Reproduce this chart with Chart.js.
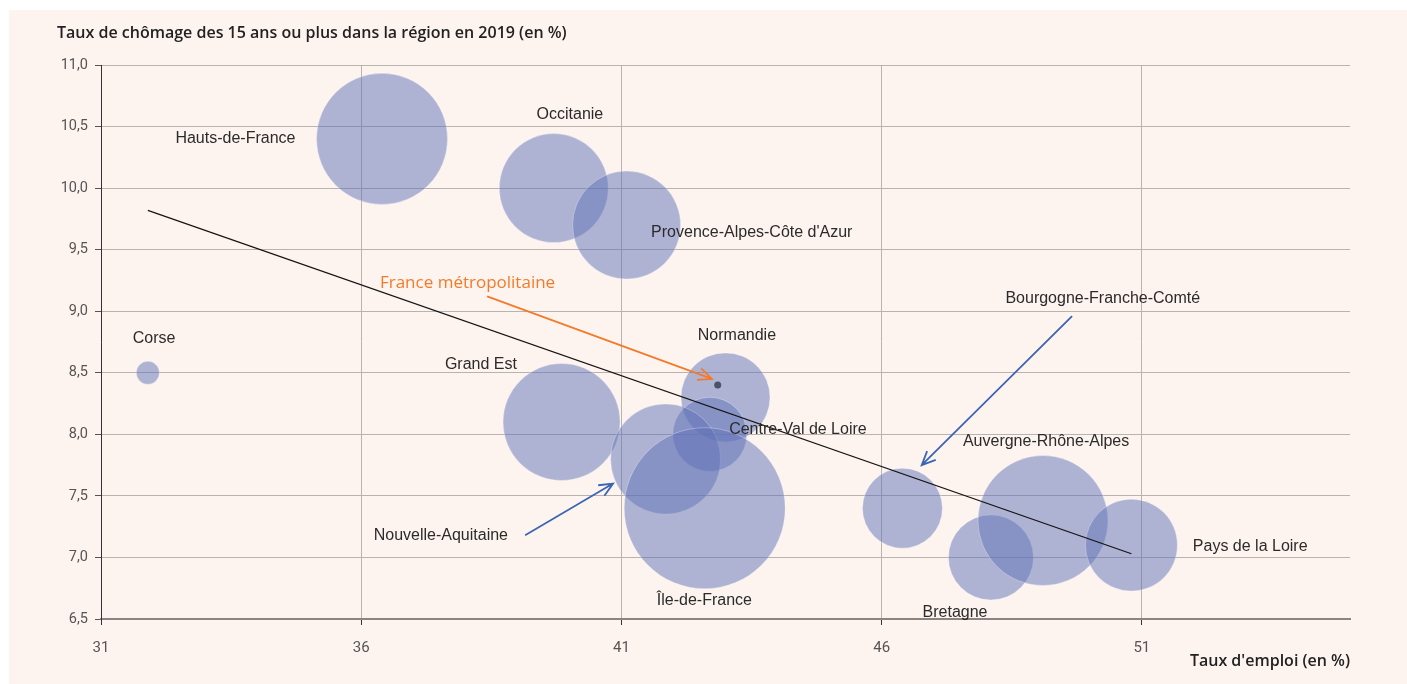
<!DOCTYPE html>
<html lang="fr">
<head>
<meta charset="utf-8">
<title>Taux de chômage et taux d'emploi par région</title>
<script src="https://cdn.jsdelivr.net/npm/chart.js@4.4.1/dist/chart.umd.min.js"></script>
<style>
    html, body { margin: 0; padding: 0; background: #ffffff; width: 1407px; height: 684px; overflow: hidden; }
    #panel { position: absolute; left: 9px; top: 10px; right: 0; bottom: 0; background: #fef4ef; }
    #wrap { position: absolute; left: 0; top: 0; width: 1407px; height: 684px; }
</style>
</head>
<body>
<div id="panel"></div>
<div id="wrap"><canvas id="bubbleChart"></canvas></div>
<script>
// Données
const regions = ['Corse', 'Hauts-de-France', 'Occitanie', "Provence-Alpes-Côte d'Azur", 'Normandie',
    'Centre-Val de Loire', 'Grand Est', 'Nouvelle-Aquitaine', 'Île-de-France', 'Bourgogne-Franche-Comté',
    'Bretagne', 'Auvergne-Rhône-Alpes', 'Pays de la Loire'];
const tauxEmploi = [31.9, 36.4, 39.7, 41.1, 43.0, 42.7, 39.85, 41.85, 42.6, 46.4, 48.1, 49.1, 50.8];
const tauxChomage = [8.5, 10.4, 10.0, 9.7, 8.3, 8.0, 8.1, 7.8, 7.4, 7.4, 7.0, 7.3, 7.1];
// taille des bulles (valeur relative, estimée)
const tailleBulle = [250, 8080, 5590, 5490, 3730, 2580, 6450, 5700, 12200, 3010, 3400, 7950, 3980];

const franceEmploi = [42.85];
const franceChomage = [8.4];

// droite de tendance (extrémités)
const tendanceX = [31.9, 50.8];
const tendanceY = [9.82, 7.03];

const xTicks = [31, 36, 41, 46, 51];
const yTicks = [6.5, 7.0, 7.5, 8.0, 8.5, 9.0, 9.5, 10.0, 10.5, 11.0];

// Étiquettes des régions (position en coordonnées des axes)
const etiquettes = [
    { text: 'Hauts-de-France', x: 32.43, y: 10.40, align: 'left' },
    { text: 'Occitanie', x: 40.01, y: 10.60, align: 'center' },
    { text: "Provence-Alpes-Côte d'Azur", x: 41.57, y: 9.64, align: 'left' },
    { text: 'Normandie', x: 43.22, y: 8.80, align: 'center' },
    { text: 'Grand Est', x: 38.30, y: 8.57, align: 'center' },
    { text: 'Corse', x: 32.02, y: 8.78, align: 'center' },
    { text: 'Centre-Val de Loire', x: 43.07, y: 8.04, align: 'left' },
    { text: 'Nouvelle-Aquitaine', x: 36.24, y: 7.18, align: 'left' },
    { text: 'Île-de-France', x: 41.68, y: 6.65, align: 'left' },
    { text: 'Bourgogne-Franche-Comté', x: 50.25, y: 9.10, align: 'center' },
    { text: 'Auvergne-Rhône-Alpes', x: 49.16, y: 7.94, align: 'center' },
    { text: 'Bretagne', x: 47.41, y: 6.55, align: 'center' },
    { text: 'Pays de la Loire', x: 51.98, y: 7.09, align: 'left' }
];

const fleches = [
    { from: [38.42, 9.12], to: [42.74, 8.45], color: '#f47a2a' },
    { from: [49.66, 8.96], to: [46.77, 7.75], color: '#3b66b3' },
    { from: [39.15, 7.18], to: [40.84, 7.60], color: '#3b66b3' }
];

const rayon = v => Math.sqrt(v) * 0.7288;
const formatFr = v => v.toFixed(1).replace('.', ',');

// Plugin : étiquettes, flèches et titres des axes
const annotationsPlugin = {
    id: 'annotations',
    afterDatasetsDraw(chart) {
        const { ctx, scales: { x, y } } = chart;
        ctx.save();

        ctx.font = '16px "Liberation Sans", Arial, sans-serif';
        ctx.fillStyle = '#2b2b2b';
        ctx.textBaseline = 'middle';
        etiquettes.forEach(e => {
            ctx.textAlign = e.align;
            ctx.fillText(e.text, x.getPixelForValue(e.x), y.getPixelForValue(e.y));
        });

        ctx.font = '17px "Open Sans", sans-serif';
        ctx.fillStyle = '#f47a2a';
        ctx.textAlign = 'left';
        ctx.fillText('France métropolitaine', x.getPixelForValue(36.36), y.getPixelForValue(9.23));

        fleches.forEach(f => {
            const x1 = x.getPixelForValue(f.from[0]), y1 = y.getPixelForValue(f.from[1]);
            const x2 = x.getPixelForValue(f.to[0]), y2 = y.getPixelForValue(f.to[1]);
            const angle = Math.atan2(y2 - y1, x2 - x1);
            ctx.strokeStyle = f.color;
            ctx.lineWidth = 1.8;
            ctx.beginPath();
            ctx.moveTo(x1, y1);
            ctx.lineTo(x2, y2);
            ctx.moveTo(x2 - 15 * Math.cos(angle - 0.42), y2 - 15 * Math.sin(angle - 0.42));
            ctx.lineTo(x2, y2);
            ctx.lineTo(x2 - 15 * Math.cos(angle + 0.42), y2 - 15 * Math.sin(angle + 0.42));
            ctx.stroke();
        });
        ctx.restore();
    },
    afterDraw(chart) {
        const { ctx, chartArea } = chart;
        ctx.save();
        ctx.font = '600 16px "Open Sans", sans-serif';
        ctx.fillStyle = '#222222';
        ctx.textBaseline = 'middle';
        ctx.textAlign = 'left';
        ctx.fillText('Taux de chômage des 15 ans ou plus dans la région en 2019 (en %)', 57, 33);
        ctx.textAlign = 'right';
        ctx.fillText("Taux d'emploi (en %)", chartArea.right, 661);
        ctx.restore();
    }
};

const ctx = document.getElementById('bubbleChart');

new Chart(ctx, {
    type: 'bubble',
    data: {
        datasets: [
            {
                type: 'line',
                label: 'Tendance',
                data: tendanceX.map((v, i) => ({ x: v, y: tendanceY[i] })),
                borderColor: '#151515',
                borderWidth: 1.3,
                pointRadius: 0,
                fill: false,
                order: 0
            },
            {
                label: 'France métropolitaine',
                data: franceEmploi.map((v, i) => ({ x: v, y: franceChomage[i], r: 3.5 })),
                backgroundColor: '#4d5168',
                borderWidth: 0,
                order: 1
            },
            {
                label: 'Régions',
                data: regions.map((name, i) => ({ x: tauxEmploi[i], y: tauxChomage[i], r: rayon(tailleBulle[i]) })),
                backgroundColor: 'rgba(95, 114, 183, 0.5)',
                borderColor: 'rgba(255, 255, 255, 0.3)',
                borderWidth: 1,
                order: 2
            }
        ]
    },
    options: {
        responsive: true,
        maintainAspectRatio: false,
        animation: false,
        events: [],
        layout: { autoPadding: false, padding: { top: 65, right: 57, left: 0, bottom: 0 } },
        plugins: {
            legend: { display: false },
            tooltip: { enabled: false }
        },
        scales: {
            x: {
                type: 'linear',
                min: 31,
                max: 55,
                afterBuildTicks: (scale) => { scale.ticks = xTicks.map(v => ({ value: v })); },
                afterFit: (scale) => { scale.height = 65; },
                grid: {
                    color: '#b9b3b0',
                    lineWidth: 1,
                    tickLength: 6,
                    tickColor: '#333333'
                },
                border: { color: '#8b8482', width: 2 },
                ticks: {
                    padding: 14,
                    color: '#555555',
                    font: { family: 'Roboto, sans-serif', size: 15 }
                }
            },
            y: {
                type: 'linear',
                min: 6.5,
                max: 11,
                afterBuildTicks: (scale) => { scale.ticks = yTicks.map(v => ({ value: v })); },
                afterFit: (scale) => { scale.width = 101; },
                grid: {
                    color: '#b9b3b0',
                    lineWidth: 1,
                    tickLength: 6,
                    tickColor: '#555555'
                },
                border: { color: '#333333', width: 1 },
                ticks: {
                    padding: 7,
                    color: '#555555',
                    font: { family: 'Roboto, sans-serif', size: 14.5 },
                    callback: (value) => formatFr(value)
                }
            }
        }
    },
    plugins: [annotationsPlugin]
});
</script>
</body>
</html>
